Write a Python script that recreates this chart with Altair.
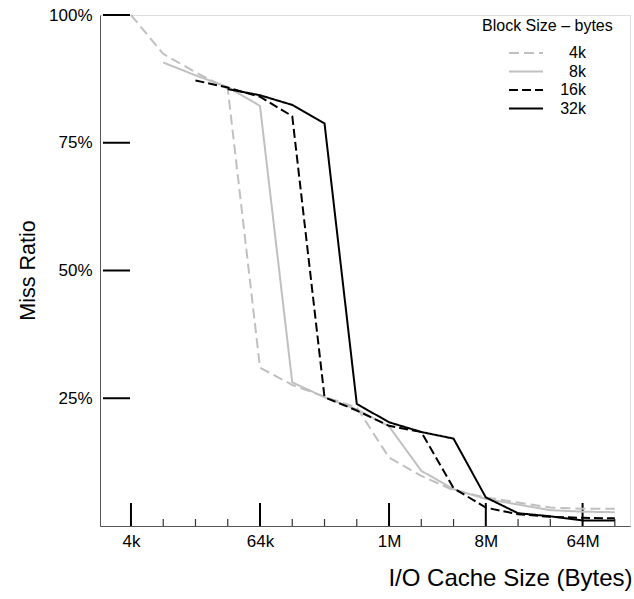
import altair as alt
import pandas as pd

# ---- data ----
series_names = ["4k", "8k", "16k", "32k"]
# cache sizes as powers of two (bytes = 2**exp)
exp_4k = list(range(12, 28))
miss_4k = [100, 92.4, 88.8, 85.6, 31.0, 27.6, 25.3, 23.2, 13.4, 9.8, 7.0, 5.6, 4.6, 3.6, 3.4, 3.4]
exp_8k = list(range(13, 28))
miss_8k = [90.7, 88.2, 85.9, 82.2, 28.1, 25.2, 22.8, 19.5, 10.8, 7.2, 5.3, 4.2, 3.1, 2.8, 2.7]
exp_16k = list(range(14, 28))
miss_16k = [87.2, 85.8, 84.0, 80.2, 25.2, 22.6, 19.6, 18.4, 7.4, 3.6, 2.3, 1.8, 1.6, 1.5]
exp_32k = list(range(15, 28))
miss_32k = [85.5, 84.3, 82.4, 78.8, 23.9, 20.3, 18.4, 17.1, 5.6, 2.5, 1.9, 1.1, 1.1]

x_tick_values = [4096, 65536, 1048576, 8388608, 67108864]
x_tick_labels = ["4k", "64k", "1M", "8M", "64M"]
x_minor_values = [2 ** e for e in range(13, 28) if 2 ** e not in x_tick_values]
y_tick_values = [25, 50, 75, 100]
y_tick_labels = ["25%", "50%", "75%", "100%"]

rows = []
for name, exps, vals in [("4k", exp_4k, miss_4k), ("8k", exp_8k, miss_8k),
                         ("16k", exp_16k, miss_16k), ("32k", exp_32k, miss_32k)]:
    for e, v in zip(exps, vals):
        rows.append({"block": name, "size": 2 ** e, "miss": v})
df = pd.DataFrame(rows)

FONT = "Liberation Sans"
W, H = 530, 511

x_label_expr = " : ".join(
    f"datum.value == {v} ? '{l}'" for v, l in zip(x_tick_values, x_tick_labels)
) + " : ''"
y_label_expr = " : ".join(
    f"datum.value == {v} ? '{l}'" for v, l in zip(y_tick_values, y_tick_labels)
) + " : ''"

xscale = alt.Scale(type="log", base=2, domain=[2 ** 11.04, 2 ** 27.47])
yscale = alt.Scale(domain=[0, 100])

lines = alt.Chart(df).mark_line(strokeWidth=2).encode(
    x=alt.X("size:Q", scale=xscale,
            axis=alt.Axis(values=x_tick_values, labelExpr=x_label_expr, ticks=False,
                          grid=False, domainColor="#555", domainWidth=1,
                          labelFont=FONT, labelFontSize=17, labelColor="black",
                          labelPadding=7, title="I/O Cache Size (Bytes)",
                          titleFont=FONT, titleFontSize=24, titleFontWeight="normal",
                          titleAlign="right", titleBaseline="middle",
                          titleX=532, titleY=52)),
    y=alt.Y("miss:Q", scale=yscale,
            axis=alt.Axis(values=y_tick_values, labelExpr=y_label_expr, ticks=False,
                          grid=False, domainColor="#555", domainWidth=1,
                          labelFont=FONT, labelFontSize=17, labelColor="black",
                          labelPadding=8, title="Miss Ratio",
                          titleFont=FONT, titleFontSize=21.5, titleFontWeight="normal",
                          titleAngle=270, titleAlign="center", titleBaseline="middle",
                          titleX=-72, titleY=255)),
    color=alt.Color("block:N",
                    scale=alt.Scale(domain=series_names,
                                    range=["#c0c0c0", "#c0c0c0", "#000000", "#000000"]),
                    legend=alt.Legend(title="Block Size \u2013 bytes", orient="none",
                                      legendX=382, legendY=3, padding=0,
                                      titleFont=FONT, titleFontSize=16,
                                      titleFontWeight="normal", titleColor="black",
                                      titlePadding=11,
                                      labelFont=FONT, labelFontSize=16, labelColor="black",
                                      labelAlign="right", labelOffset=42,
                                      symbolType="stroke", symbolSize=1156,
                                      symbolStrokeWidth=2, symbolOffset=26,
                                      clipHeight=16, rowPadding=2.5)),
    strokeDash=alt.StrokeDash("block:N",
                              scale=alt.Scale(domain=series_names,
                                              range=[[10, 5], [1, 0], [9, 4], [1, 0]]),
                              legend=None),
)

major_df = pd.DataFrame({"size": x_tick_values})
minor_df = pd.DataFrame({"size": x_minor_values})
ytick_df = pd.DataFrame({"miss": y_tick_values})

major_ticks = alt.Chart(major_df).mark_rule(color="black", strokeWidth=2).encode(
    x=alt.X("size:Q", scale=xscale), y=alt.value(H), y2=alt.value(H - 23))
minor_ticks = alt.Chart(minor_df).mark_rule(color="#333", strokeWidth=1.2).encode(
    x=alt.X("size:Q", scale=xscale), y=alt.value(H), y2=alt.value(H - 7))
y_ticks = alt.Chart(ytick_df).mark_rule(color="black", strokeWidth=2).encode(
    y=alt.Y("miss:Q", scale=yscale), x=alt.value(3), x2=alt.value(30))

chart = alt.layer(major_ticks, minor_ticks, y_ticks, lines).properties(
    width=W, height=H,
    autosize=alt.AutoSizeParams(type="none"),
    padding={"left": 100, "top": 15, "right": 4, "bottom": 73},
).configure_view(stroke=None).configure(background="white")

chart.save("out.html", embed_options={"renderer": "svg", "actions": False})
